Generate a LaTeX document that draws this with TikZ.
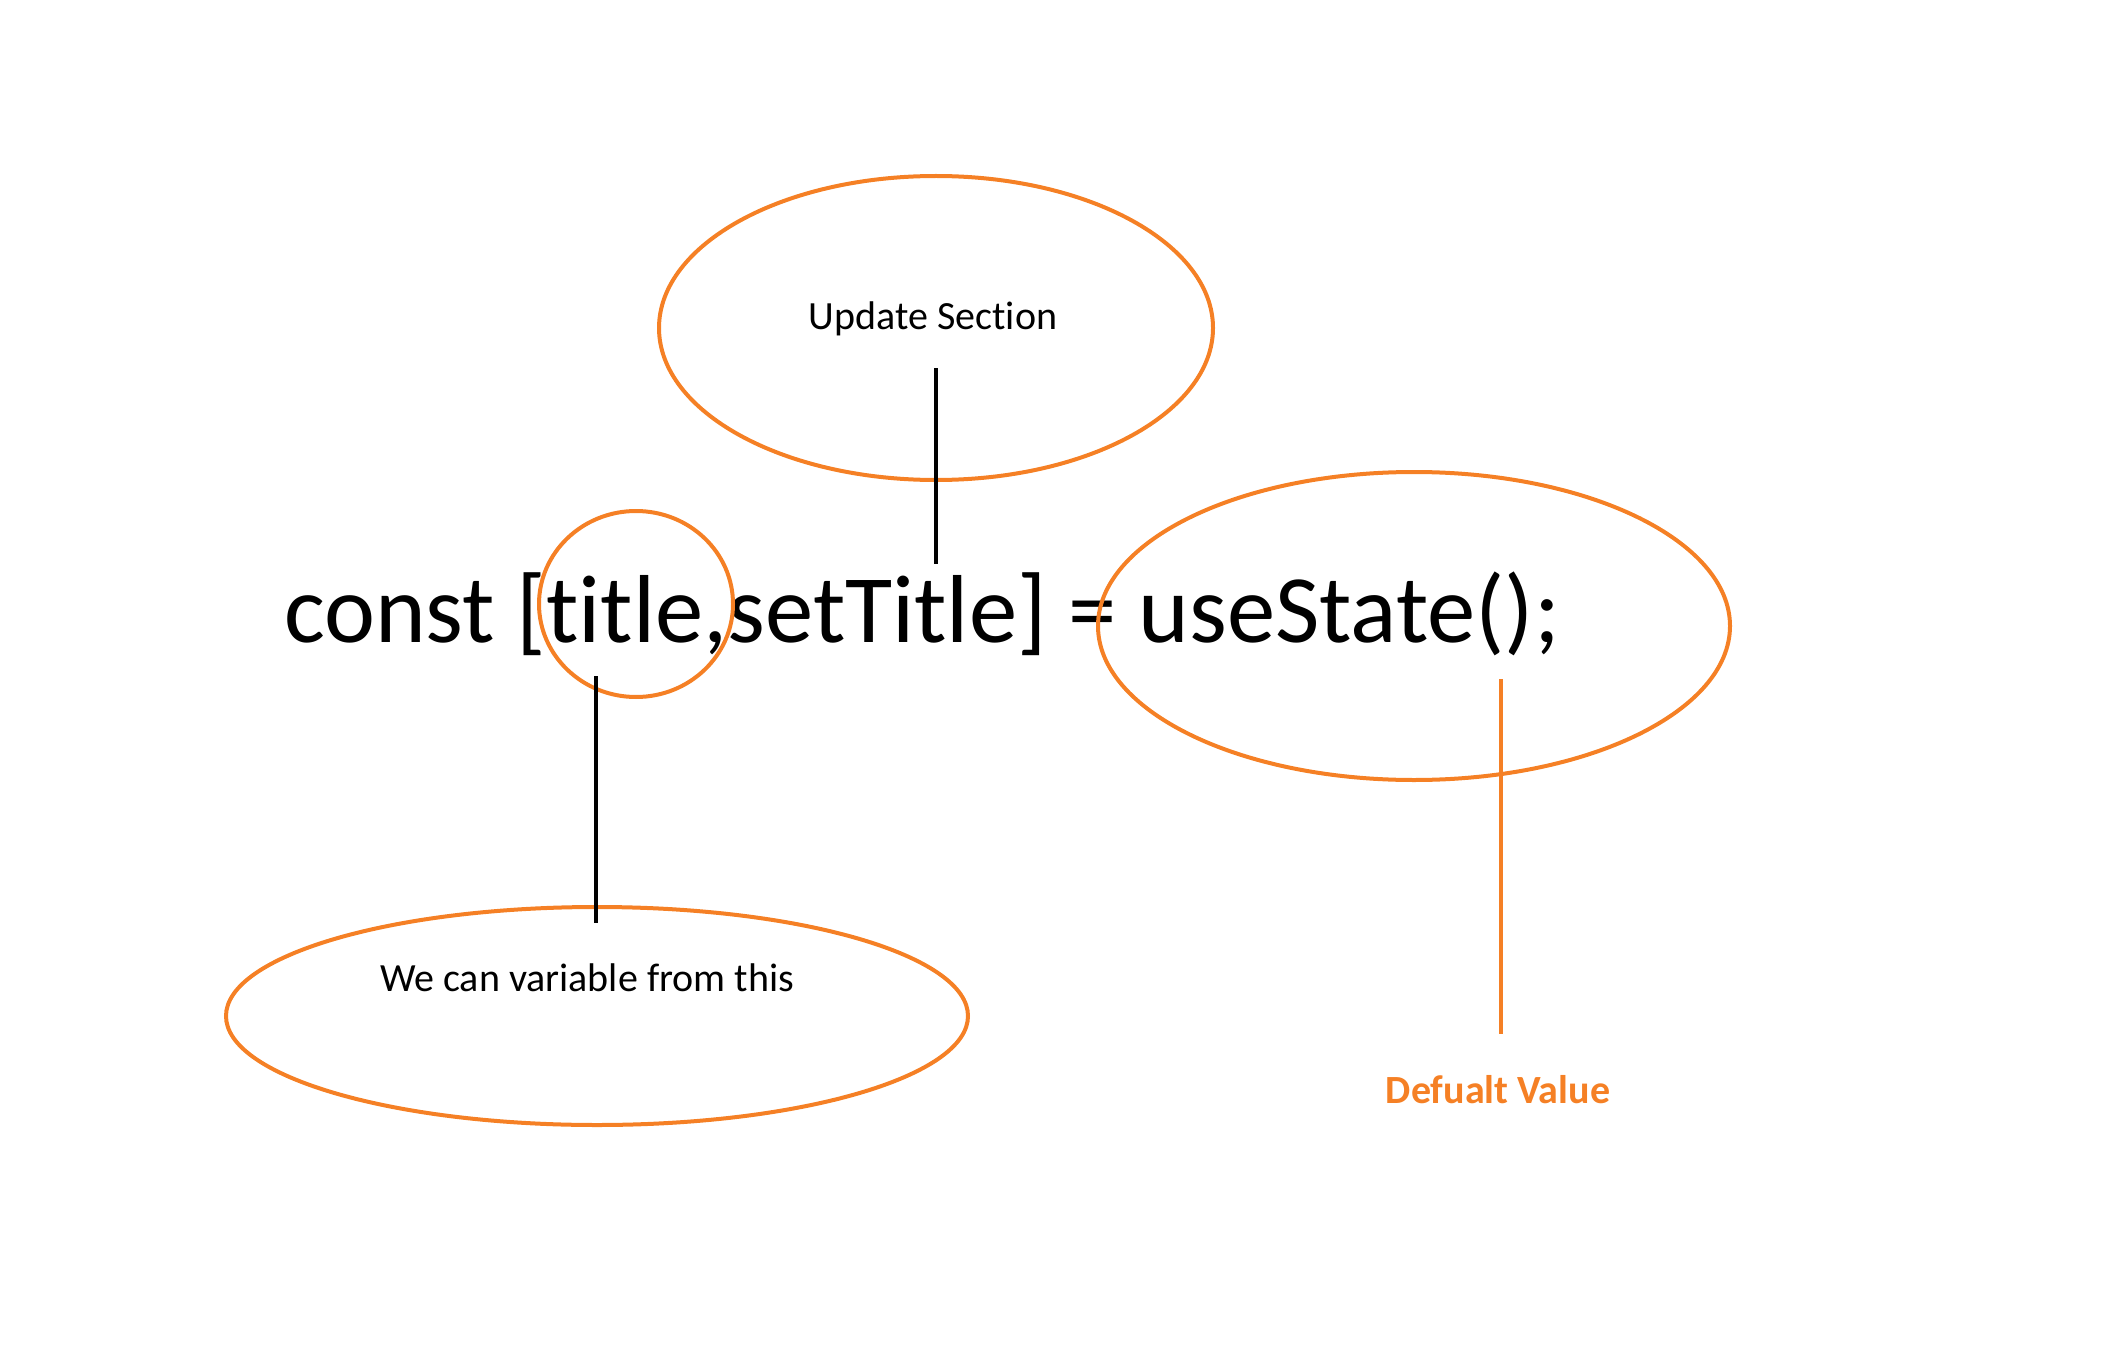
\documentclass[tikz,border=0pt]{standalone}
\usepackage{fontspec}
\setmainfont{Carlito}[Ligatures=NoCommon]
\usepackage{xcolor}
\definecolor{markorange}{RGB}{245,128,37}

\begin{document}
\begin{tikzpicture}[x=1pt,y=-1pt,
        ring/.style={draw=markorange,line width=4pt},
        lbl/.style={anchor=base,inner sep=0,font=\fontsize{40}{48}\selectfont}]
        \useasboundingbox (0,0) rectangle (2120,1348);
        \node[anchor=base west,inner sep=0,font=\fontsize{96.6}{115}\selectfont] (code) at (284,642) {const [title,setTitle] = useState();};
        \draw[ring] (936,328) ellipse (277pt and 152pt);
        \draw[ring] (636,604) ellipse (97pt and 93pt);
        \draw[ring] (1414,626) ellipse (316pt and 154pt);
        \draw[ring] (597,1016) ellipse (371pt and 109pt);
        \node[lbl] (update) at (933,330) {Update Section};
        \node[lbl] (getter) at (587,991) {We can variable from this};
        \node[lbl,text=markorange,font=\fontsize{40}{48}\selectfont\bfseries] (default) at (1498,1103) {Defualt Value};
        \coordinate (update-a) at (936,368);
        \coordinate (update-b) at (936,564);
        \coordinate (getter-a) at (596,676);
        \coordinate (getter-b) at (596,923);
        \coordinate (default-a) at (1501,679);
        \coordinate (default-b) at (1501,1034);
        \draw[line width=4.5pt] (update-a) -- (update-b);
        \draw[line width=4.5pt] (getter-a) -- (getter-b);
        \draw[line width=4.5pt,markorange] (default-a) -- (default-b);
\end{tikzpicture}
\end{document}
